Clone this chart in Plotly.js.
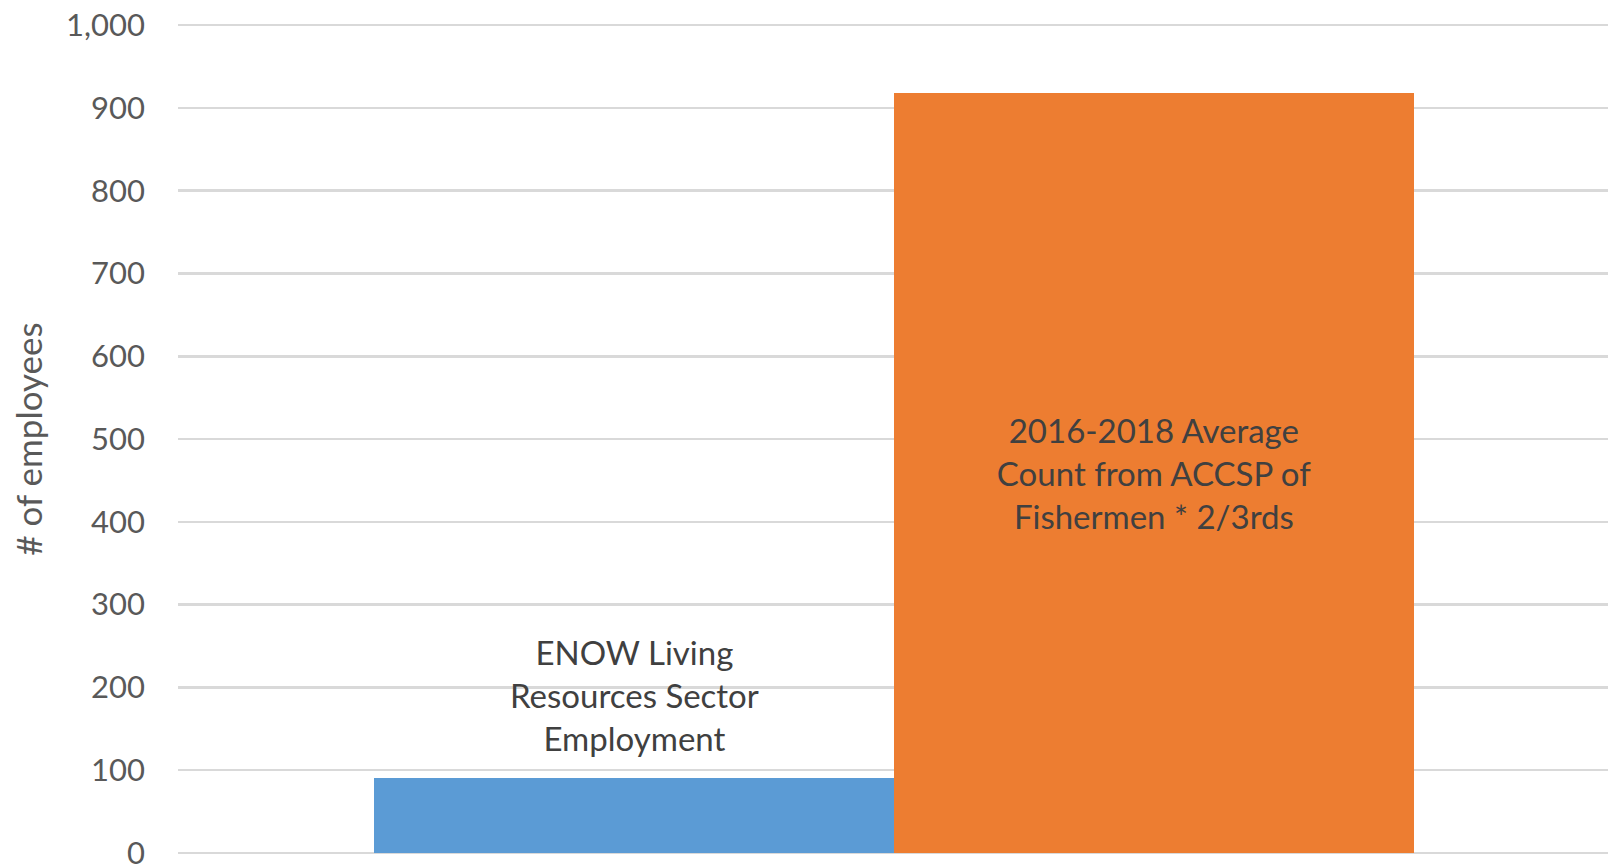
<!DOCTYPE html>
<html>
<head>
<meta charset="utf-8">
<script src="https://cdn.plot.ly/plotly-3.0.1.min.js"></script>
<style>html,body{margin:0;padding:0;background:#fff;}#chart{width:1616px;height:865px;}</style>
</head>
<body>
<div id="chart"></div>
<script>
const categories = ["ENOW", "ACCSP"];
const values = [90, 918];
const barLabels = [
  "ENOW Living<br>Resources Sector<br>Employment",
  "2016-2018 Average<br>Count from ACCSP of<br>Fishermen * 2/3rds"
];
const colors = ["#5B9BD5", "#ED7D31"];
const yTickVals = [0, 100, 200, 300, 400, 500, 600, 700, 800, 900, 1000];
const yTickText = ["0", "100", "200", "300", "400", "500", "600", "700", "800", "900", "1,000"];

const FONT = "Lato, 'Open Sans', sans-serif";
const labelFont = {family: FONT, size: 33, color: "#404040"};

const trace = {
  type: "bar",
  x: categories,
  y: values,
  text: barLabels,
  textposition: ["none", "inside"],
  insidetextanchor: "middle",
  textangle: 0,
  textfont: labelFont,
  insidetextfont: labelFont,
  marker: {color: colors, line: {width: 0}},
  hoverinfo: "none"
};

const layout = {
  width: 1616,
  height: 865,
  margin: {l: 178, r: 8, t: 24, b: 11},
  paper_bgcolor: "#ffffff",
  plot_bgcolor: "#ffffff",
  showlegend: false,
  bargap: 0,
  xaxis: {
    type: "category",
    range: [-0.877, 1.873],
    showticklabels: false,
    showgrid: false,
    zeroline: false,
    showline: false,
    ticks: ""
  },
  yaxis: {
    range: [-1.5, 1001.5],
    tickvals: yTickVals,
    ticktext: yTickText,
    showgrid: true,
    gridcolor: "#d9d9d9",
    gridwidth: 2.5,
    zeroline: false,
    showline: false,
    ticks: "",
    ticklabelstandoff: 32,
    ticklabeloverflow: "allow",
    automargin: false,
    tickfont: {family: FONT, size: 31, color: "#595959"},
    title: {text: "# of employees", font: {family: FONT, size: 35, color: "#595959"}, standoff: 12}
  },
  annotations: [{
    x: categories[0],
    y: values[0],
    xref: "x",
    yref: "y",
    text: barLabels[0],
    showarrow: false,
    xanchor: "center",
    yanchor: "bottom",
    yshift: 18,
    font: labelFont
  }]
};

Plotly.newPlot("chart", [trace], layout, {displayModeBar: false, staticPlot: true});
</script>
</body>
</html>
